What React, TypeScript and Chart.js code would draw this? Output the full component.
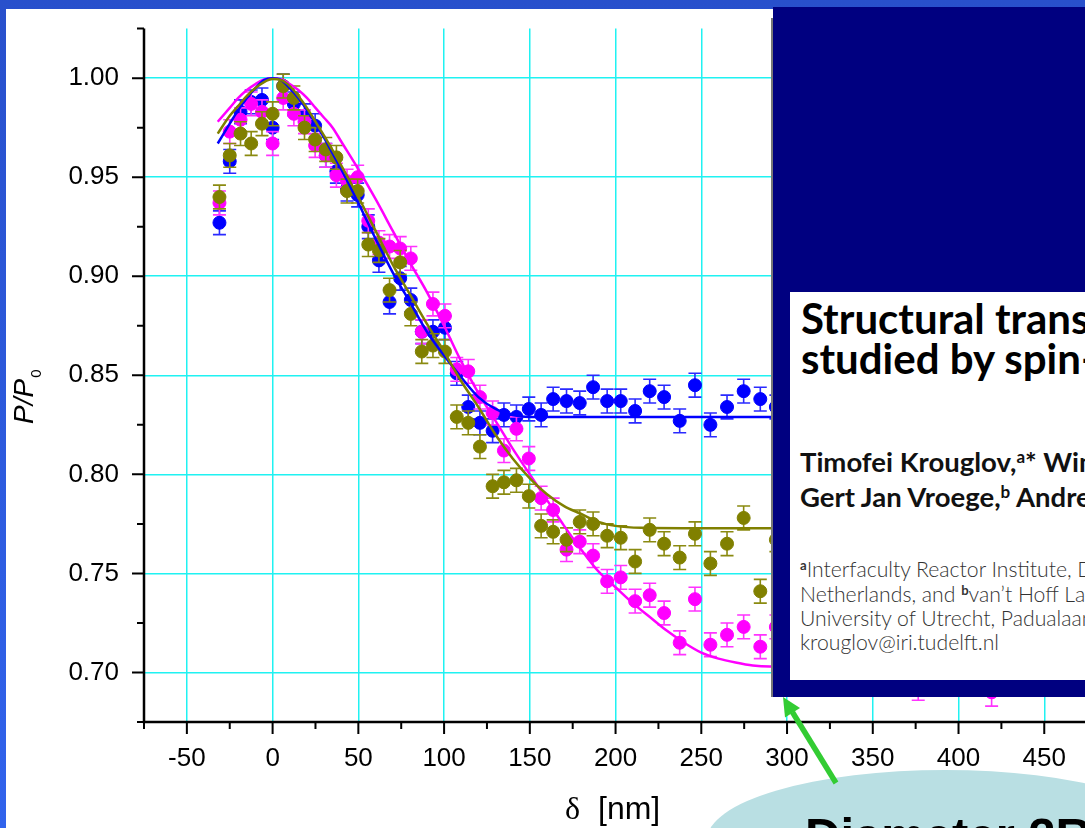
import React, { useEffect, useRef } from 'react';
import { Chart, registerables } from 'chart.js';

Chart.register(...registerables);

// ---------------- data ----------------
const DELTA = [-31, -25, -18.7, -12.5, -6.2, 0, 6.2, 12.4, 18.6, 24.8, 31, 37.2, 43.4, 49.6, 55.8, 62, 68.2, 74.4, 80.6, 87, 93.5, 100.5, 107.4, 114.1, 120.9, 128.3, 134.9, 142.2, 149.4, 156.6, 163.6, 171.4, 179.1, 186.9, 195.1, 203, 211.4, 219.9, 228.3, 237.4, 246.3, 255.3, 265, 274.7, 284.4, 293.5];

const BLUE_P = [0.927, 0.958, 0.983, 0.988, 0.989, 0.975, 0.996, 0.987, 0.981, 0.976, 0.961, 0.953, 0.944, 0.941, 0.925, 0.908, 0.887, 0.899, 0.888, 0.872, 0.872, 0.874, 0.851, 0.834, 0.826, 0.822, 0.830, 0.829, 0.833, 0.830, 0.838, 0.837, 0.836, 0.844, 0.837, 0.837, 0.832, 0.842, 0.839, 0.827, 0.845, 0.825, 0.834, 0.842, 0.838, 0.834];
const BLUE_ERR = [0.006, 0.006, 0.006, 0.006, 0.006, 0.006, 0.006, 0.006, 0.006, 0.006, 0.006, 0.006, 0.006, 0.006, 0.006, 0.006, 0.006, 0.006, 0.006, 0.006, 0.006, 0.006, 0.006, 0.006, 0.006, 0.006, 0.006, 0.006, 0.006, 0.006, 0.006, 0.006, 0.006, 0.006, 0.006, 0.006, 0.006, 0.006, 0.006, 0.006, 0.006, 0.006, 0.006, 0.006, 0.006, 0.006];

const OLIVE_P = [0.940, 0.961, 0.972, 0.967, 0.977, 0.982, 0.996, 0.990, 0.975, 0.969, 0.964, 0.960, 0.943, 0.943, 0.916, 0.913, 0.893, 0.907, 0.881, 0.862, 0.865, 0.862, 0.829, 0.826, 0.814, 0.794, 0.796, 0.797, 0.789, 0.774, 0.771, 0.767, 0.776, 0.775, 0.769, 0.768, 0.756, 0.772, 0.765, 0.758, 0.770, 0.755, 0.765, 0.778, 0.741, 0.767];
const OLIVE_ERR = [0.006, 0.006, 0.006, 0.006, 0.006, 0.006, 0.006, 0.006, 0.006, 0.006, 0.006, 0.006, 0.006, 0.006, 0.006, 0.006, 0.006, 0.006, 0.006, 0.006, 0.006, 0.006, 0.006, 0.006, 0.006, 0.006, 0.006, 0.006, 0.006, 0.006, 0.006, 0.006, 0.006, 0.006, 0.006, 0.006, 0.006, 0.006, 0.006, 0.006, 0.006, 0.006, 0.006, 0.006, 0.006, 0.006];

const MAGENTA_DELTA = [-31, -25, -18.7, -12.5, -6.2, 0, 6.2, 12.4, 18.6, 24.8, 31, 37.2, 43.4, 49.6, 55.8, 62, 68.2, 74.4, 80.6, 87, 93.5, 100.5, 107.4, 114.1, 120.9, 128.3, 134.9, 142.2, 149.4, 156.6, 163.6, 171.4, 179.1, 186.9, 195.1, 203, 211.4, 219.9, 228.3, 237.4, 246.3, 255.3, 265, 274.7, 284.4, 293.5, 376.5, 419.3];
const MAGENTA_P = [0.937, 0.973, 0.979, 0.987, 0.983, 0.967, 0.990, 0.982, 0.978, 0.966, 0.961, 0.951, 0.948, 0.950, 0.928, 0.917, 0.915, 0.914, 0.909, 0.872, 0.886, 0.880, 0.853, 0.852, 0.839, 0.831, 0.812, 0.823, 0.808, 0.788, 0.782, 0.762, 0.766, 0.759, 0.746, 0.748, 0.736, 0.739, 0.730, 0.715, 0.737, 0.714, 0.719, 0.723, 0.713, 0.723, 0.693, 0.690];
const MAGENTA_ERR = [0.006, 0.006, 0.006, 0.006, 0.006, 0.006, 0.006, 0.006, 0.006, 0.006, 0.006, 0.006, 0.006, 0.006, 0.006, 0.006, 0.006, 0.006, 0.006, 0.006, 0.006, 0.006, 0.006, 0.006, 0.006, 0.006, 0.006, 0.006, 0.006, 0.006, 0.006, 0.006, 0.006, 0.006, 0.006, 0.006, 0.006, 0.006, 0.006, 0.006, 0.006, 0.006, 0.006, 0.006, 0.006, 0.006, 0.007, 0.007];

// fitted curves
const BLUE_FIT_X = [-32, -25, -20, -15, -10, -5, 0, 5, 10, 15, 20, 25, 30, 35, 40, 50, 60, 70, 80, 90, 100, 110, 120, 130, 140, 150, 175, 500];
const BLUE_FIT_Y = [0.967, 0.977, 0.984, 0.990, 0.995, 0.999, 1.000, 0.999, 0.995, 0.990, 0.984, 0.977, 0.970, 0.962, 0.954, 0.937, 0.919, 0.902, 0.887, 0.872, 0.860, 0.849, 0.839, 0.833, 0.830, 0.829, 0.829, 0.829];

const OLIVE_FIT_X = [-32, -25, -20, -15, -10, -5, 0, 5, 10, 15, 20, 25, 30, 40, 50, 60, 70, 80, 90, 100, 110, 120, 130, 140, 150, 160, 170, 180, 190, 200, 215, 240, 500];
const OLIVE_FIT_Y = [0.972, 0.981, 0.986, 0.991, 0.995, 0.998, 0.9995, 0.999, 0.996, 0.991, 0.985, 0.978, 0.971, 0.956, 0.940, 0.923, 0.906, 0.891, 0.876, 0.862, 0.847, 0.834, 0.820, 0.808, 0.798, 0.790, 0.784, 0.780, 0.776, 0.774, 0.773, 0.7728, 0.7728];

const MAGENTA_FIT_X = [-32, -25, -20, -15, -10, -5, 0, 5, 10, 15, 20, 25, 30, 35, 40, 50, 60, 70, 80, 90, 100, 110, 120, 130, 140, 150, 160, 170, 180, 190, 200, 210, 220, 230, 240, 250, 260, 270, 280, 290, 300, 500];
const MAGENTA_FIT_Y = [0.978, 0.985, 0.990, 0.994, 0.997, 0.9993, 1.000, 0.9995, 0.997, 0.994, 0.990, 0.985, 0.980, 0.975, 0.968, 0.954, 0.939, 0.923, 0.907, 0.892, 0.875, 0.857, 0.841, 0.827, 0.813, 0.800, 0.787, 0.774, 0.762, 0.751, 0.743, 0.735, 0.728, 0.721, 0.715, 0.710, 0.707, 0.705, 0.7035, 0.703, 0.703, 0.703];

const X_TICKS = [-75, -50, -25, 0, 25, 50, 75, 100, 125, 150, 175, 200, 225, 250, 275, 300, 325, 350, 375, 400, 425, 450, 475, 500];
const X_LABELED = [-50, 0, 50, 100, 150, 200, 250, 300, 350, 400, 450, 500];
const Y_TICKS = [0.675, 0.7, 0.725, 0.75, 0.775, 0.8, 0.825, 0.85, 0.875, 0.9, 0.925, 0.95, 0.975, 1.0, 1.025];
const Y_LABELED = [0.7, 0.75, 0.8, 0.85, 0.9, 0.95, 1.0];

// ---------------- style ----------------
const BLUE = '#0000ff';
const OLIVE = '#808000';
const MAGENTA = '#ff00ff';
const CYAN = '#1ff2f2';
const SANS = '"Liberation Sans", Arial, sans-serif';

const isIn = (arr: number[], v: number) => arr.some((a) => Math.abs(a - v) < 1e-6);

const pts = (xs: number[], ys: number[]) => xs.map((x, i) => ({ x, y: ys[i] }));

const errorBars = {
  id: 'errorBars',
  beforeDatasetDraw(chart: any, args: any) {
    const ds: any = chart.data.datasets[args.index];
    if (!ds.errors) return;
    const xs = chart.scales.x;
    const ys = chart.scales.y;
    const ctx = chart.ctx;
    ctx.save();
    ctx.strokeStyle = ds.errColor;
    ctx.lineWidth = 1.6;
    ds.data.forEach((p: any, i: number) => {
      const e = ds.errors[i];
      const px = xs.getPixelForValue(p.x);
      const yt = ys.getPixelForValue(p.y + e);
      const yb = ys.getPixelForValue(p.y - e);
      ctx.beginPath();
      ctx.moveTo(px, yt);
      ctx.lineTo(px, yb);
      ctx.moveTo(px - 6.5, yt);
      ctx.lineTo(px + 6.5, yt);
      ctx.moveTo(px - 6.5, yb);
      ctx.lineTo(px + 6.5, yb);
      ctx.stroke();
    });
    ctx.restore();
  },
};

const axesFrame = {
  id: 'axesFrame',
  afterDraw(chart: any) {
    const ctx = chart.ctx;
    const a = chart.chartArea;
    const xs = chart.scales.x;
    const ys = chart.scales.y;
    ctx.save();
    ctx.strokeStyle = '#000';
    ctx.lineWidth = 2;
    ctx.beginPath();
    X_TICKS.forEach((v) => {
      const px = xs.getPixelForValue(v);
      const len = isIn(X_LABELED, v) ? 12 : 7;
      ctx.moveTo(px, a.bottom);
      ctx.lineTo(px, a.bottom + len);
    });
    Y_TICKS.forEach((v) => {
      const py = ys.getPixelForValue(v);
      const len = isIn(Y_LABELED, v) ? 12 : 7;
      ctx.moveTo(a.left, py);
      ctx.lineTo(a.left - len, py);
    });
    ctx.stroke();
    ctx.lineWidth = 2.5;
    ctx.beginPath();
    ctx.moveTo(a.left, a.top);
    ctx.lineTo(a.left, a.bottom);
    ctx.moveTo(a.left - 1.25, a.bottom);
    ctx.lineTo(a.right, a.bottom);
    ctx.stroke();

    // x title: δ [nm]
    ctx.fillStyle = '#000';
    ctx.textBaseline = 'alphabetic';
    ctx.textAlign = 'left';
    ctx.font = '32px "Liberation Serif", "Times New Roman", serif';
    ctx.fillText('δ', 565, 819);
    ctx.font = '32px ' + SANS;
    ctx.fillText('[nm]', 598, 819);

    // y title: P/P0 (rotated)
    ctx.translate(33, 424);
    ctx.rotate(-Math.PI / 2);
    ctx.font = 'italic 28px ' + SANS;
    ctx.fillText('P/P', 0, 0);
    const w = ctx.measureText('P/P').width;
    ctx.font = '15px ' + SANS;
    ctx.fillText('0', w + 1, 8);
    ctx.restore();
  },
};

function ChartCanvas() {
  const ref = useRef<HTMLCanvasElement | null>(null);
  useEffect(() => {
    if (!ref.current) return;
    const chart = new Chart(ref.current, {
      type: 'scatter',
      data: {
        datasets: [
          {
            type: 'line',
            label: 'olive fit',
            data: pts(OLIVE_FIT_X, OLIVE_FIT_Y),
            borderColor: OLIVE,
            borderWidth: 2.5,
            pointRadius: 0,
            cubicInterpolationMode: 'monotone',
            showLine: true,
            order: 0,
          } as any,
          {
            type: 'line',
            label: 'blue fit',
            data: pts(BLUE_FIT_X, BLUE_FIT_Y),
            borderColor: BLUE,
            borderWidth: 2.5,
            pointRadius: 0,
            cubicInterpolationMode: 'monotone',
            showLine: true,
            order: 1,
          } as any,
          {
            type: 'line',
            label: 'magenta fit',
            data: pts(MAGENTA_FIT_X, MAGENTA_FIT_Y),
            borderColor: MAGENTA,
            borderWidth: 2.5,
            pointRadius: 0,
            cubicInterpolationMode: 'monotone',
            showLine: true,
            order: 2,
          } as any,
          {
            label: 'olive',
            data: pts(DELTA, OLIVE_P),
            backgroundColor: OLIVE,
            borderColor: OLIVE,
            borderWidth: 1,
            pointRadius: 6.5,
            errors: OLIVE_ERR,
            errColor: '#8a8a10',
            order: 3,
          } as any,
          {
            label: 'magenta',
            data: pts(MAGENTA_DELTA, MAGENTA_P),
            backgroundColor: MAGENTA,
            borderColor: MAGENTA,
            borderWidth: 1,
            pointRadius: 6.5,
            errors: MAGENTA_ERR,
            errColor: '#ff33ff',
            order: 4,
          } as any,
          {
            label: 'blue',
            data: pts(DELTA, BLUE_P),
            backgroundColor: BLUE,
            borderColor: BLUE,
            borderWidth: 1,
            pointRadius: 6.5,
            errors: BLUE_ERR,
            errColor: '#2a2aff',
            order: 5,
          } as any,
        ],
      },
      options: {
        responsive: false,
        animation: false,
        devicePixelRatio: 1,
        layout: { padding: { top: 25, right: 70, left: 0, bottom: 0 } },
        plugins: { legend: { display: false }, tooltip: { enabled: false } },
        scales: {
          x: {
            type: 'linear',
            min: -75,
            max: 500,
            afterBuildTicks: (s: any) => {
              s.ticks = X_TICKS.map((v) => ({ value: v }));
            },
            afterFit: (s: any) => {
              s.height = 106;
            },
            ticks: {
              autoSkip: false,
              maxRotation: 0,
              padding: 9,
              color: '#000',
              font: { family: SANS, size: 26 },
              callback: (v: any) => (isIn(X_LABELED, Number(v)) ? String(v) : ''),
            },
            grid: {
              color: (c: any) => (c.tick && isIn(X_LABELED, c.tick.value) ? CYAN : 'rgba(0,0,0,0)'),
              lineWidth: 1.5,
              drawTicks: true,
              tickLength: 12,
              tickColor: 'rgba(0,0,0,0)',
            },
            border: { display: false },
          },
          y: {
            type: 'linear',
            min: 0.675,
            max: 1.025,
            afterBuildTicks: (s: any) => {
              s.ticks = Y_TICKS.map((v) => ({ value: v }));
            },
            afterFit: (s: any) => {
              s.width = 144;
            },
            ticks: {
              autoSkip: false,
              padding: 13,
              color: '#000',
              font: { family: SANS, size: 26 },
              callback: (v: any) => (isIn(Y_LABELED, Number(v)) ? Number(v).toFixed(2) : ''),
            },
            grid: {
              color: (c: any) => (c.tick && isIn(Y_LABELED, c.tick.value) ? CYAN : 'rgba(0,0,0,0)'),
              lineWidth: 1.5,
              drawTicks: true,
              tickLength: 12,
              tickColor: 'rgba(0,0,0,0)',
            },
            border: { display: false },
          },
        },
      } as any,
      plugins: [errorBars, axesFrame],
    });
    return () => chart.destroy();
  }, []);
  return (
    <canvas
      ref={ref}
      width={1200}
      height={828}
      style={{ position: 'absolute', left: 0, top: 0, width: 1200, height: 828 }}
    />
  );
}

const LATO = 'Lato, "Open Sans", sans-serif';
const sup: React.CSSProperties = { fontSize: '0.62em', position: 'relative', top: '-0.55em', verticalAlign: 'baseline', lineHeight: 0 };

function Line({ top, size, weight, color, children, left = 800 }: any) {
  return (
    <div
      style={{
        position: 'absolute',
        left,
        top,
        fontFamily: LATO,
        fontSize: size,
        fontWeight: weight,
        color,
        lineHeight: `${size}px`,
        whiteSpace: 'nowrap',
      }}
    >
      {children}
    </div>
  );
}

export default function App() {
  return (
    <div
      style={{
        position: 'fixed',
        left: 0,
        top: 0,
        width: 1085,
        height: 828,
        overflow: 'hidden',
        background: 'linear-gradient(180deg, #2850cc 0%, #3163ec 100%)',
      }}
    >
      <div style={{ position: 'absolute', left: 6, top: 9, width: 1200, height: 900, background: '#ffffff' }} />
      <ChartCanvas />

      {/* paper excerpt */}
      <div style={{ position: 'absolute', left: 771, top: 18, width: 2, height: 679, background: '#777' }} />
      <div style={{ position: 'absolute', left: 773, top: 7, width: 330, height: 690, background: '#000080' }} />
      <div style={{ position: 'absolute', left: 790, top: 292, width: 320, height: 388, background: '#ffffff' }} />
      <Line top={297} size={42} weight={700} color="#000" left={801}>
        Structural transitions of hard-sphere colloids
      </Line>
      <Line top={337} size={42} weight={700} color="#000" left={801}>
        studied by spin-echo small-angle neutron scattering
      </Line>
      <Line top={448} size={27.5} weight={700} color="#111">
        Timofei Krouglov,<span style={sup}>a</span>* Wim G. Bouwman,<span style={sup}>a</span> Jeroen Plomp,
      </Line>
      <Line top={483} size={27.5} weight={700} color="#111">
        Gert Jan Vroege,<span style={sup}>b</span> Andrei V. Petukhov<span style={sup}>b</span>
      </Line>
      <Line top={559} size={21.2} weight={300} color="#333">
        <b style={{ ...sup, fontWeight: 700 }}>a</b>Interfaculty Reactor Institute, Delft University of Technology, The
      </Line>
      <Line top={584} size={21.2} weight={300} color="#333">
        Netherlands, and <b style={{ ...sup, fontWeight: 700 }}>b</b>van’t Hoff Laboratory for Physical and Colloid Chemistry,
      </Line>
      <Line top={608} size={21.2} weight={300} color="#333">
        University of Utrecht, Padualaan 8, 3584 CH Utrecht, The Netherlands.
      </Line>
      <Line top={632} size={21.2} weight={300} color="#333">
        krouglov@iri.tudelft.nl
      </Line>

      {/* callout ellipse */}
      <div
        style={{
          position: 'absolute',
          left: 707,
          top: 770,
          width: 476,
          height: 140,
          borderRadius: '50%',
          background: '#b9dfe3',
        }}
      />
      <div
        style={{
          position: 'absolute',
          left: 805,
          top: 811,
          fontFamily: SANS,
          fontWeight: 700,
          fontSize: 49,
          lineHeight: '49px',
          color: '#000',
          whiteSpace: 'nowrap',
        }}
      >
        Diameter 2R
      </div>

      {/* green arrow */}
      <svg width={1085} height={828} style={{ position: 'absolute', left: 0, top: 0, pointerEvents: 'none' }}>
        <line x1={836} y1={783} x2={792.5} y2={712.3} stroke="#33cc33" strokeWidth={5.5} />
        <polygon points="783,697 800,708 785,717.5" fill="#33cc33" />
      </svg>
    </div>
  );
}
